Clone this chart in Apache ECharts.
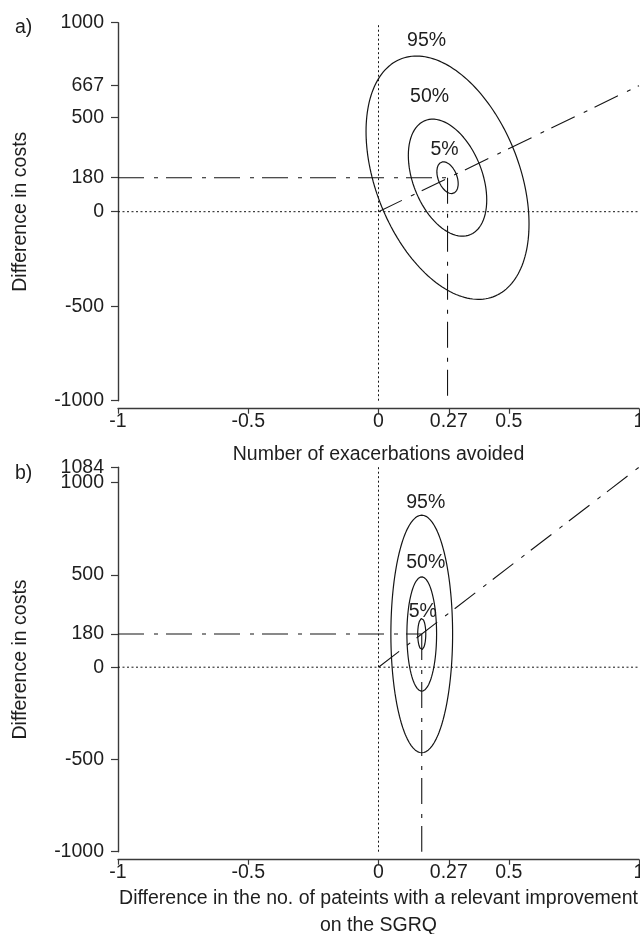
<!DOCTYPE html>
<html><head><meta charset="utf-8">
<script src="https://cdn.jsdelivr.net/npm/echarts@6/dist/echarts.min.js"></script>
<style>html,body{margin:0;padding:0;background:#fff}#c{width:640px;height:934px}</style>
</head><body><div id="c"></div>
<script>
// ---- data ----
const xTicks = [-1, -0.5, 0, 0.27, 0.5, 1];
const yTicksA = [-1000, -500, 0, 180, 500, 667, 1000];
const yTicksB = [-1000, -500, 0, 180, 500, 1000, 1084];
const levels = [0.95, 0.50, 0.05];
const levelLabels = ['95%', '50%', '5%'];
// panel a: mean effect, mean cost, SDs, correlation, ICER
const centerA = [0.265, 180];
const sdA = [0.1278, 263];
const rhoA = -0.38;
const icerA = 667;
// panel b
const centerB = [0.166, 180];
const sdB = [0.0484, 263];
const rhoB = 0.0;
const icerB = 1084;
const yRangeA = [-1000, 1000];
const yRangeB = [-1000, 1084];
const xRange = [-1, 1];

// ---- styles ----
const INK = '#151515';
const TXT = '#1e1e1e';
const FONT = '"Liberation Sans", Arial, Helvetica, sans-serif';
const FS = 19.5;
const DASHDOT = [26, 10, 4, 8];
const DOT = [2, 2.5];
const labelOffsetsA = [[10, -1], [-3, -9], [1, 2]];
const labelOffsetsB = [[4, 1], [4, 0], [1, 7]];

function radius(p) { return Math.sqrt(-2 * Math.log(1 - p)); }
function ellipse(c, sd, rho, p) {
  const r = radius(p), pts = [], n = 180, s = Math.sqrt(1 - rho * rho);
  for (let i = 0; i <= n; i++) {
    const t = 2 * Math.PI * i / n;
    pts.push([c[0] + r * sd[0] * Math.cos(t), c[1] + r * sd[1] * (rho * Math.cos(t) + s * Math.sin(t))]);
  }
  return pts;
}
function topPoint(c, sd, rho, p) {
  const r = radius(p);
  return [c[0] + r * sd[0] * rho, c[1] + r * sd[1]];
}

function panelSeries(idx, c, sd, rho, icer, yr, offs) {
  const S = [];
  const base = { type: 'line', xAxisIndex: idx, yAxisIndex: idx, symbol: 'none', silent: true, animation: false };
  S.push(Object.assign({}, base, { data: [[0, yr[0]], [0, yr[1]]], lineStyle: { color: INK, width: 1, type: DOT } }));
  S.push(Object.assign({}, base, { data: [[xRange[0], 0], [xRange[1], 0]], lineStyle: { color: INK, width: 1, type: DOT } }));
  S.push(Object.assign({}, base, { data: [[xRange[0], c[1]], [c[0], c[1]]], lineStyle: { color: INK, width: 1.1, type: DASHDOT } }));
  S.push(Object.assign({}, base, { data: [[c[0], c[1]], [c[0], yr[0]]], lineStyle: { color: INK, width: 1.1, type: DASHDOT } }));
  S.push(Object.assign({}, base, { data: [[0, 0], [1, icer]], lineStyle: { color: INK, width: 1.1, type: DASHDOT } }));
  levels.forEach(p => {
    S.push(Object.assign({}, base, { data: ellipse(c, sd, rho, p), lineStyle: { color: INK, width: 1.2, type: 'solid' } }));
  });
  S.push({
    type: 'scatter', xAxisIndex: idx, yAxisIndex: idx, symbolSize: 0, silent: true, animation: false,
    itemStyle: { opacity: 1 },
    data: levels.map((p, i) => ({ value: topPoint(c, sd, rho, p), name: levelLabels[i],
      label: { offset: offs[i] } })),
    label: { show: true, position: 'top', distance: 4, formatter: '{b}', color: TXT, fontSize: FS, fontFamily: FONT }
  });
  return S;
}

const axisLineStyle = { color: '#3a3a3a', width: 1.4 };
const labelBase = { color: TXT, fontSize: FS, fontFamily: FONT, formatter: v => String(v) };
const nameBase = { color: TXT, fontSize: FS, fontFamily: FONT };

function xAxis(idx, name, gap, lh) {
  return {
    type: 'value', gridIndex: idx, min: xRange[0], max: xRange[1], offset: 8,
    name: name, nameLocation: 'middle', nameGap: gap,
    nameTextStyle: Object.assign({}, nameBase, lh ? { lineHeight: lh } : {}),
    splitLine: { show: false },
    axisLine: { onZero: false, lineStyle: axisLineStyle },
    axisTick: { show: true, length: 5, customValues: xTicks, lineStyle: { color: '#3a3a3a', width: 1.2 } },
    axisLabel: Object.assign({}, labelBase, { customValues: xTicks, margin: 3, showMinLabel: true, showMaxLabel: true })
  };
}
function yAxis(idx, tickVals, labelVals, yr) {
  return {
    type: 'value', gridIndex: idx, min: yr[0], max: yr[1],
    name: 'Difference in costs', nameLocation: 'middle', nameGap: 87, nameRotate: 90,
    nameTextStyle: nameBase,
    splitLine: { show: false },
    axisLine: { onZero: false, lineStyle: axisLineStyle },
    axisTick: { show: true, length: 7, customValues: tickVals, lineStyle: { color: '#3a3a3a', width: 1.2 } },
    axisLabel: Object.assign({}, labelBase, { customValues: labelVals, margin: 14, showMinLabel: true, showMaxLabel: true })
  };
}
// extra label-only axis for the top tick of panel b (so it does not suppress its neighbour)
function yAxisTopLabel(idx, val, yr) {
  return {
    type: 'value', gridIndex: idx, min: yr[0], max: yr[1], position: 'left',
    splitLine: { show: false }, axisLine: { show: false, onZero: false }, axisTick: { show: false },
    axisLabel: Object.assign({}, labelBase, { customValues: [val], margin: 14, showMinLabel: true, showMaxLabel: true })
  };
}

const chart = echarts.init(document.getElementById('c'), null, { renderer: 'canvas' });
chart.setOption({
  backgroundColor: '#fff',
  animation: false,
  title: [
    { text: 'a)', left: 10, top: 13, textStyle: { color: TXT, fontSize: FS, fontWeight: 'normal', fontFamily: FONT } },
    { text: 'b)', left: 10, top: 459, textStyle: { color: TXT, fontSize: FS, fontWeight: 'normal', fontFamily: FONT } }
  ],
  grid: [
    { left: 118, right: 1, top: 22.7, height: 378, containLabel: false, outerBoundsMode: 'none' },
    { left: 118, right: 1, top: 467.2, height: 384.5, containLabel: false, outerBoundsMode: 'none' }
  ],
  xAxis: [
    xAxis(0, 'Number of exacerbations avoided', 36),
    xAxis(1, 'Difference in the no. of pateints with a relevant improvement\non the SGRQ', 25, 27)
  ],
  yAxis: [
    yAxis(0, yTicksA, yTicksA, yRangeA),
    yAxis(1, yTicksB, yTicksB.filter(v => v !== yRangeB[1]), yRangeB),
    yAxisTopLabel(1, yRangeB[1], yRangeB)
  ],
  series: [].concat(
    panelSeries(0, centerA, sdA, rhoA, icerA, yRangeA, labelOffsetsA),
    panelSeries(1, centerB, sdB, rhoB, icerB, yRangeB, labelOffsetsB)
  )
});
</script></body></html>
